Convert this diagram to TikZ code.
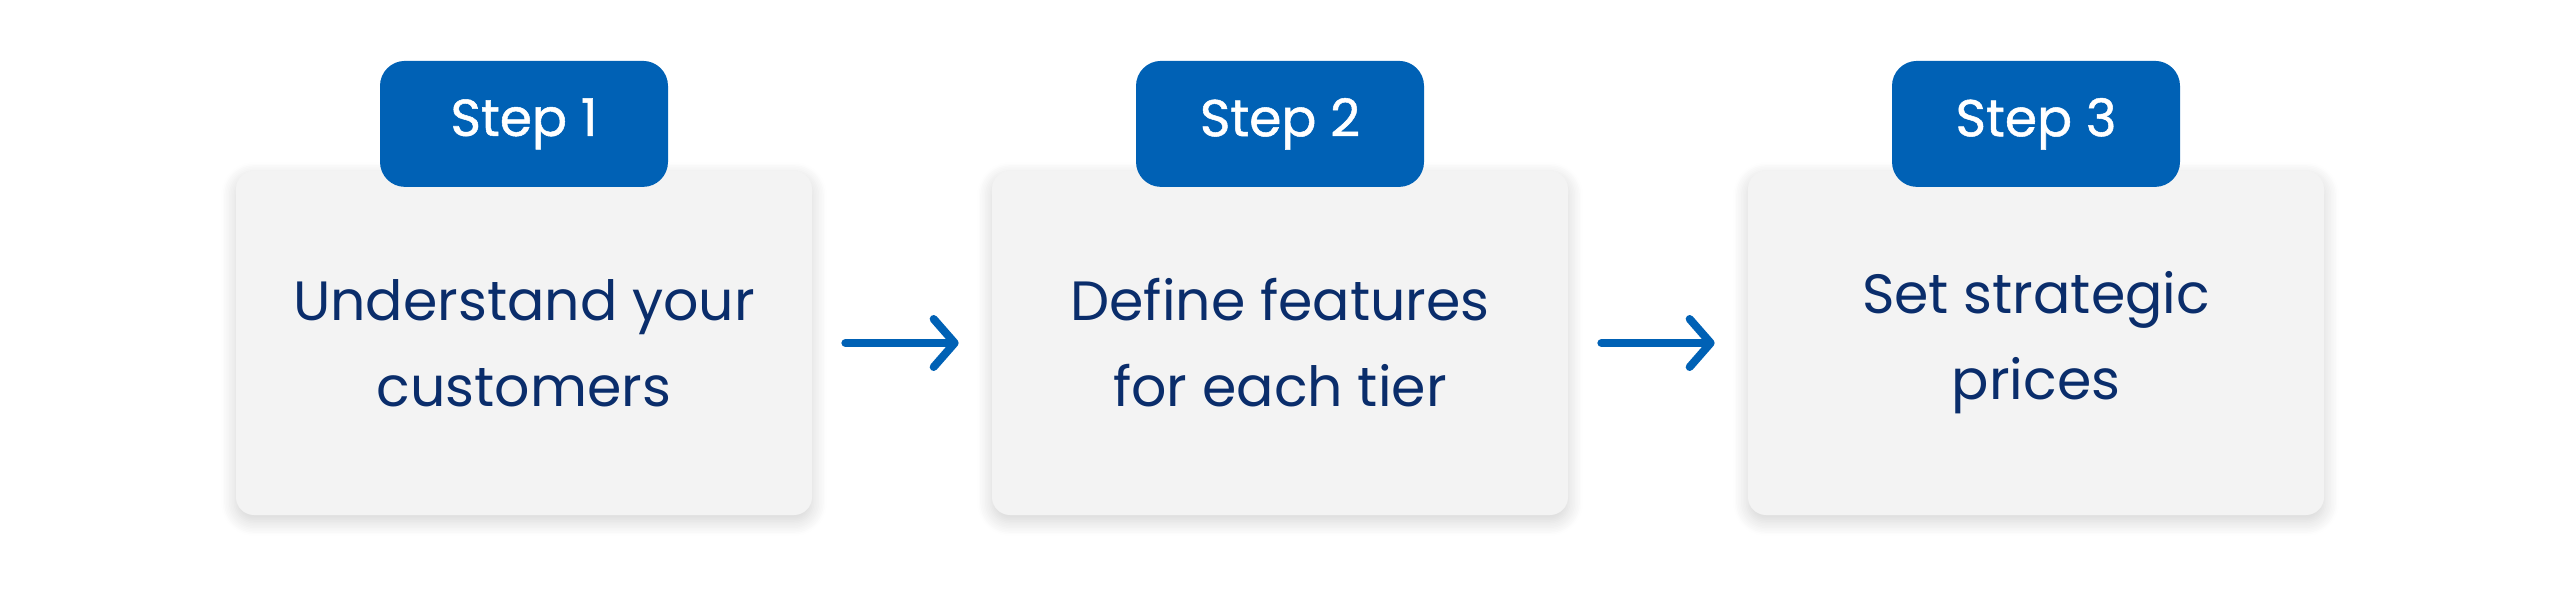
\documentclass[tikz,border=0pt]{standalone}
\usepackage{fontspec}
\setmainfont{Poppins}
\newfontfamily\stepfont[FakeBold=1]{Poppins}
\usepackage{xcolor}
\usetikzlibrary{positioning,arrows.meta,shadows.blur}
\definecolor{stepblue}{HTML}{0061B5}
\definecolor{navy}{HTML}{0A2D6B}
\definecolor{boxgray}{HTML}{F3F3F3}
\tikzset{
  card/.style={rounded corners=0.36cm, fill=boxgray, minimum width=11.52cm, minimum height=6.88cm,
    text=navy, align=center, font=\fontsize{31.5}{49}\selectfont,
    blur shadow={shadow xshift=0pt, shadow yshift=-0.12cm, shadow blur steps=10, shadow opacity=18, shadow blur radius=0.3cm}},
  tab/.style={rounded corners=0.5cm, fill=stepblue, minimum width=5.76cm, minimum height=2.52cm,
    text=white, font=\stepfont\fontsize{29.5}{34}\selectfont},
  flow/.style={stepblue, line width=0.16cm, line cap=round, line join=round,
    -{Straight Barb[length=0.42cm, width=0.96cm, round]}, shorten <=0.66cm, shorten >=0.66cm}
}
\begin{document}
\begin{tikzpicture}
\useasboundingbox (0,0) rectangle (51.2,12.14);
% cards
\node[card] (box1) at (10.48,5.28) {Understand your\\customers};
\node[card] (box2) at (25.6,5.28) {Define features\\for each tier};
\node[card] (box3) at (40.72,5.28) {Set strategic\\prices};
% step labels
\node[tab] (tab1) at ([yshift=0.935cm]box1.north) {Step 1};
\node[tab] (tab2) at ([yshift=0.935cm]box2.north) {Step 2};
\node[tab] (tab3) at ([yshift=0.935cm]box3.north) {Step 3};
% arrows
\draw[flow] (box1.east) -- (box2.west);
\draw[flow] (box2.east) -- (box3.west);
\end{tikzpicture}
\end{document}
